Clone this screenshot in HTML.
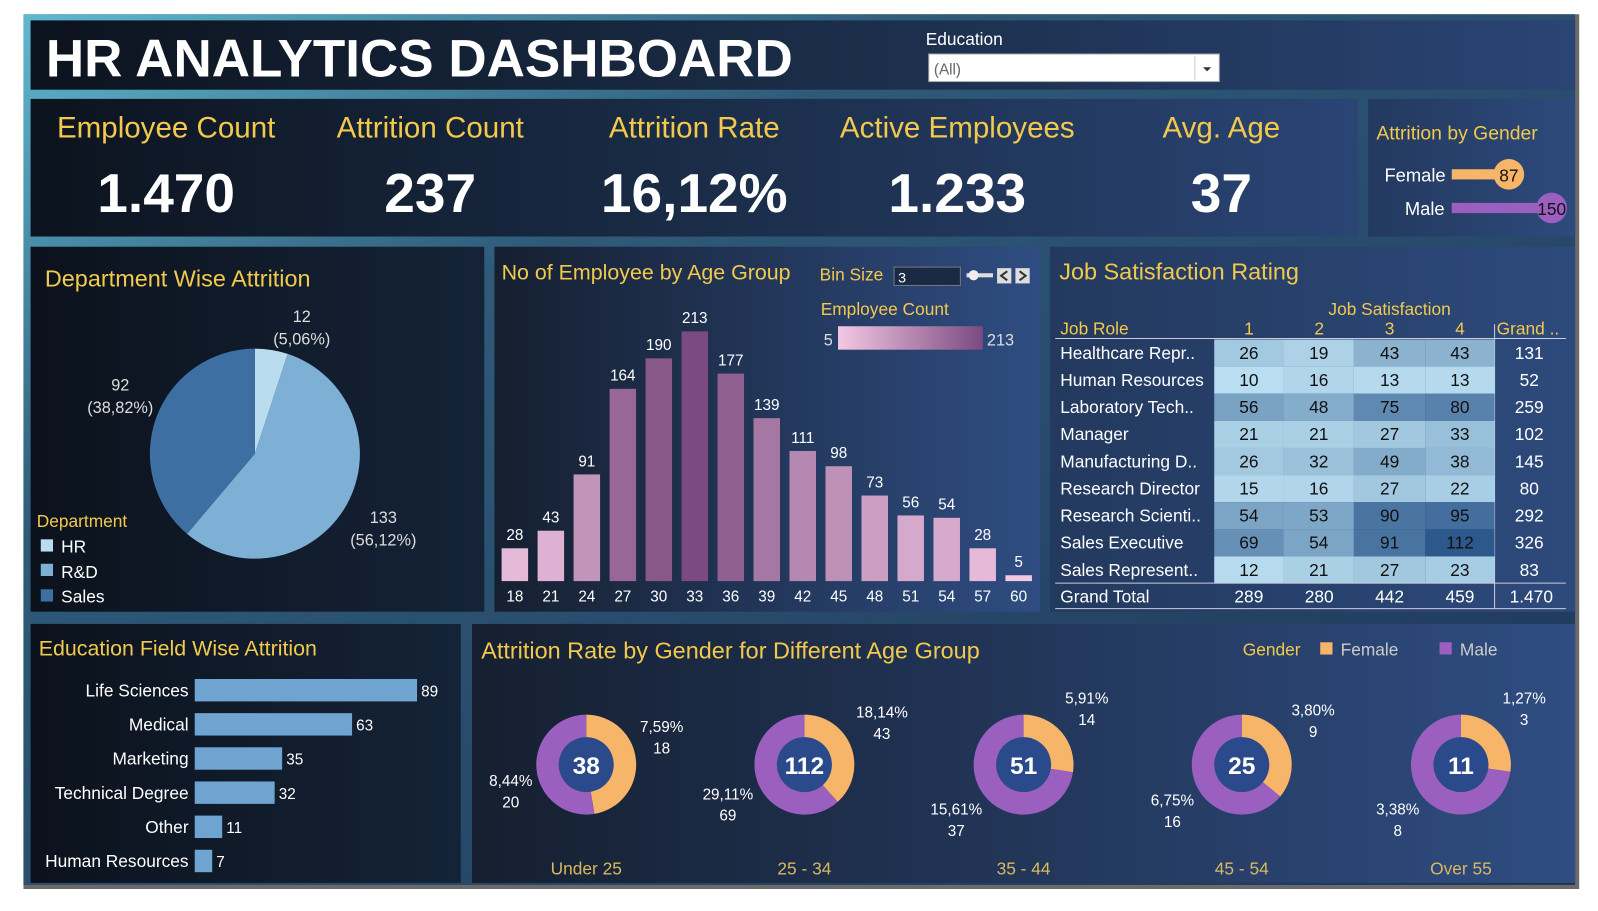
<!DOCTYPE html>
<html><head><meta charset="utf-8"><style>
html,body{margin:0;padding:0;background:#fff;width:1598px;height:911px;overflow:hidden}
svg text{font-family:"Liberation Sans",sans-serif}
</style></head><body>
<svg width="1598" height="911" xmlns="http://www.w3.org/2000/svg">
<defs>
<linearGradient id="bg" x1="0" y1="0" x2="1" y2="1">
<stop offset="0" stop-color="#5fb8cf"/><stop offset="0.3" stop-color="#2e5a78"/><stop offset="1" stop-color="#1e3358"/></linearGradient>
<linearGradient id="pn" x1="0" y1="0" x2="1" y2="0">
<stop offset="0" stop-color="#0c131e"/><stop offset="0.5" stop-color="#1a2c47"/><stop offset="1" stop-color="#2a4474"/></linearGradient>
<linearGradient id="pd" x1="0" y1="0" x2="1" y2="0">
<stop offset="0" stop-color="#0b121c"/><stop offset="1" stop-color="#152338"/></linearGradient>
<linearGradient id="pr" x1="0" y1="0" x2="1" y2="0">
<stop offset="0" stop-color="#23395e"/><stop offset="1" stop-color="#2d4a7c"/></linearGradient>
<linearGradient id="pm" x1="0" y1="0" x2="1" y2="0">
<stop offset="0" stop-color="#151f30"/><stop offset="1" stop-color="#2f4d82"/></linearGradient>
<linearGradient id="leg" x1="0" y1="0" x2="1" y2="0">
<stop offset="0" stop-color="#f2c8e3"/><stop offset="1" stop-color="#7b4a80"/></linearGradient>
</defs>
<g transform="scale(1.0195)">
<rect x="23" y="14" width="1526" height="858" fill="#6a6a6a"/>
<rect x="23" y="14" width="1522" height="854" fill="url(#bg)"/>
<rect x="30" y="20" width="1515" height="68" fill="url(#pn)"/>
<rect x="30" y="97" width="1302" height="135" fill="url(#pn)"/>
<rect x="1342" y="97" width="203" height="135" fill="url(#pr)"/>
<rect x="30" y="242" width="445" height="358" fill="url(#pd)"/>
<rect x="485" y="242" width="535" height="358" fill="url(#pm)"/>
<rect x="1030" y="242" width="515" height="358" fill="url(#pr)"/>
<rect x="30" y="612" width="422" height="254" fill="url(#pd)"/>
<rect x="463" y="612" width="1082" height="254" fill="url(#pm)"/>
<text x="45" y="75" font-size="52" font-weight="bold" fill="#fff">HR ANALYTICS DASHBOARD</text>
<text x="908" y="44" font-size="17" fill="#fff">Education</text>
<rect x="911" y="53" width="285" height="27" fill="#fff" stroke="#aaa"/>
<text x="916" y="73" font-size="15" fill="#666">(All)</text>
<line x1="1172" y1="55" x2="1172" y2="78" stroke="#ccc"/>
<path d="M1180 66 l4 4 l4 -4z" fill="#333"/>
<g font-size="29" fill="#f2c94c" text-anchor="middle">
<text x="163" y="135">Employee Count</text><text x="422" y="135">Attrition Count</text><text x="681" y="135">Attrition Rate</text><text x="939" y="135">Active Employees</text><text x="1198" y="135">Avg. Age</text></g>
<g font-size="54" font-weight="bold" fill="#fff" text-anchor="middle">
<text x="163" y="208">1.470</text><text x="422" y="208">237</text><text x="681" y="208">16,12%</text><text x="939" y="208">1.233</text><text x="1198" y="208">37</text></g>
<text x="1350" y="137" font-size="19" fill="#f2c94c">Attrition by Gender</text>
<text x="1358" y="178" font-size="18" fill="#fff">Female</text>
<text x="1378" y="211" font-size="18" fill="#fff">Male</text>
<rect x="1424" y="166" width="56" height="10" fill="#f7b56a"/><circle cx="1480" cy="171" r="15" fill="#f7b56a"/>
<text x="1480" y="178" font-size="17" text-anchor="middle" fill="#111">87</text>
<rect x="1424" y="199" width="98" height="10" fill="#9b5fc0"/><circle cx="1522" cy="204" r="15" fill="#9b5fc0"/>
<text x="1522" y="211" font-size="17" text-anchor="middle" fill="#111">150</text>
<text x="44" y="281" font-size="23" fill="#f2c94c">Department Wise Attrition</text>
<g id="pie"></g>
<g font-size="16" fill="#ddd" text-anchor="middle">
<text x="296" y="316">12</text><text x="296" y="338">(5,06%)</text>
<text x="118" y="383">92</text><text x="118" y="405">(38,82%)</text>
<text x="376" y="513">133</text><text x="376" y="535">(56,12%)</text></g>
<text x="36" y="517" font-size="17" fill="#f2c94c">Department</text>
<rect x="40" y="529" width="12" height="12" fill="#b9dcef"/><text x="60" y="542" font-size="17" fill="#fff">HR</text>
<rect x="40" y="553" width="12" height="12" fill="#7eb0d6"/><text x="60" y="567" font-size="17" fill="#fff">R&amp;D</text>
<rect x="40" y="578" width="12" height="12" fill="#3e6fa3"/><text x="60" y="591" font-size="17" fill="#fff">Sales</text>
<text x="492" y="274" font-size="21" fill="#f2c94c">No of Employee by Age Group</text>
<text x="804" y="275" font-size="17" fill="#f2c94c">Bin Size</text>
<rect x="877" y="262" width="65" height="18" fill="#1a2a44" stroke="#777"/>
<text x="881" y="277" font-size="14" fill="#fff">3</text>
<rect x="948" y="268" width="26" height="4" fill="#ddd"/><circle cx="955" cy="270" r="5" fill="#eee"/>
<rect x="978" y="263" width="14" height="15" fill="#ddd"/><rect x="996" y="263" width="14" height="15" fill="#ddd"/>
<path d="M988 266 l-6 4.5 l6 4.5" stroke="#333" stroke-width="2" fill="none"/><path d="M1000 266 l6 4.5 l-6 4.5" stroke="#333" stroke-width="2" fill="none"/>
<text x="805" y="309" font-size="17" fill="#f2c94c">Employee Count</text>
<text x="808" y="339" font-size="16" fill="#ddd">5</text>
<rect x="822" y="320" width="142" height="23" fill="url(#leg)"/>
<text x="968" y="339" font-size="16" fill="#ddd">213</text>
<g id="bars"></g>
<text x="1039" y="274" font-size="23" fill="#f2c94c">Job Satisfaction Rating</text>
<text x="1363" y="309" font-size="17" fill="#f2c94c" text-anchor="middle">Job Satisfaction</text>
<g font-size="17" fill="#f2c94c"><text x="1040" y="328">Job Role</text>
<text x="1225" y="328" text-anchor="middle">1</text><text x="1294" y="328" text-anchor="middle">2</text><text x="1363" y="328" text-anchor="middle">3</text><text x="1432" y="328" text-anchor="middle">4</text><text x="1468" y="328">Grand ..</text></g>
<line x1="1466" y1="318" x2="1466" y2="597" stroke="#ccd" stroke-width="1"/>
<line x1="1035" y1="332" x2="1536" y2="332" stroke="#ccd"/>
<g id="tbl"></g>
<text x="38" y="643" font-size="21" fill="#f2c94c">Education Field Wise Attrition</text>
<g id="edu"></g>
<text x="472" y="646" font-size="23" fill="#f2c94c">Attrition Rate by Gender for Different Age Group</text>
<text x="1219" y="643" font-size="17" fill="#f2c94c">Gender</text>
<rect x="1295" y="630" width="12" height="12" fill="#f7b56a"/><text x="1315" y="643" font-size="17" fill="#ccc">Female</text>
<rect x="1412" y="630" width="12" height="12" fill="#9b5fc0"/><text x="1432" y="643" font-size="17" fill="#ccc">Male</text>
<g id="don"></g>
</g>
</svg>
<script>
var NS="http://www.w3.org/2000/svg";
function el(g,t,a,txt){var e=document.createElementNS(NS,t);for(var k in a)e.setAttribute(k,a[k]);if(txt!=null)e.textContent=txt;document.getElementById(g).appendChild(e);return e;}
function arc(cx,cy,r,a0,a1){var p=function(a){return [cx+r*Math.sin(a*Math.PI/180),cy-r*Math.cos(a*Math.PI/180)]};var s=p(a0),e=p(a1);return "M"+cx+" "+cy+" L"+s[0]+" "+s[1]+" A"+r+" "+r+" 0 "+((a1-a0)>180?1:0)+" 1 "+e[0]+" "+e[1]+"Z";}
var a1=0.0506*360,a2=a1+0.5612*360;
el("pie","path",{d:arc(250,445,103,0,a1),fill:"#b9dcef"});
el("pie","path",{d:arc(250,445,103,a1,a2),fill:"#7eb0d6"});
el("pie","path",{d:arc(250,445,103,a2,360),fill:"#3e6fa3"});
function mix(c1,c2,t){var r=[];for(var i=0;i<3;i++)r.push(Math.round(c1[i]+(c2[i]-c1[i])*t));return "rgb("+r.join(",")+")";}
var ages=[18,21,24,27,30,33,36,39,42,45,48,51,54,57,60],vals=[28,43,91,164,190,213,177,139,111,98,73,56,54,28,5];
for(var i=0;i<15;i++){var x=505+i*35.3,h=vals[i]*1.15,t=(vals[i]-5)/208;
el("bars","rect",{x:x-13,y:570-h,width:26,height:h,fill:mix([242,200,227],[123,74,128],t)});
el("bars","text",{x:x,y:570-h-8,"font-size":15,fill:"#fff","text-anchor":"middle"},vals[i]);
el("bars","text",{x:x,y:590,"font-size":15,fill:"#fff","text-anchor":"middle"},ages[i]);}
var roles=["Healthcare Repr..","Human Resources","Laboratory Tech..","Manager","Manufacturing D..","Research Director","Research Scienti..","Sales Executive","Sales Represent.."];
var d=[[26,19,43,43,131],[10,16,13,13,52],[56,48,75,80,259],[21,21,27,33,102],[26,32,49,38,145],[15,16,27,22,80],[54,53,90,95,292],[69,54,91,112,326],[12,21,27,23,83]];
var cx=[1191,1259,1328,1398,1466];
for(var r=0;r<9;r++){var y=333+r*26.6;
el("tbl","text",{x:1040,y:y+19,"font-size":17,fill:"#fff"},roles[r]);
for(var c=0;c<4;c++){var t=(d[r][c]-10)/102;
el("tbl","rect",{x:cx[c],y:y,width:cx[c+1]-cx[c],height:26.6,fill:mix([185,222,241],[44,88,140],t)});
el("tbl","text",{x:(cx[c]+cx[c+1])/2,y:y+19,"font-size":17,fill:"#111","text-anchor":"middle"},d[r][c]);}
el("tbl","text",{x:1500,y:y+19,"font-size":17,fill:"#fff","text-anchor":"middle"},d[r][4]);}
el("tbl","line",{x1:1035,y1:572,x2:1536,y2:572,stroke:"#ccd"});
el("tbl","line",{x1:1035,y1:597,x2:1536,y2:597,stroke:"#ccd"});
el("tbl","text",{x:1040,y:591,"font-size":17,fill:"#fff"},"Grand Total");
var gt=[289,280,442,459,"1.470"];
for(var c=0;c<5;c++)el("tbl","text",{x:[1225,1294,1363,1432,1502][c],y:591,"font-size":17,fill:"#fff","text-anchor":"middle"},gt[c]);
var ef=["Life Sciences","Medical","Marketing","Technical Degree","Other","Human Resources"],ev=[89,63,35,32,11,7];
for(var i=0;i<6;i++){var y=677+i*33.5,w=ev[i]*2.45;
el("edu","text",{x:185,y:y+6,"font-size":17,fill:"#fff","text-anchor":"end"},ef[i]);
el("edu","rect",{x:191,y:y-11,width:w,height:22,fill:"#6fa3d0"});
el("edu","text",{x:191+w+4,y:y+6,"font-size":15,fill:"#fff"},ev[i]);}
var dc=[575,789,1004,1218,1433],tot=[38,112,51,25,11],fem=[18,43,14,9,3],
lab=["Under 25","25 - 34","35 - 44","45 - 54","Over 55"],
fp=["7,59%","18,14%","5,91%","3,80%","1,27%"],mp=["8,44%","29,11%","15,61%","6,75%","3,38%"],ml=[20,69,37,16,8],
fpos=[[649,718],[865,704],[1066,690],[1288,702],[1495,690]],mpos=[[501,771],[714,784],[938,799],[1150,790],[1371,799]];
for(var i=0;i<5;i++){var x=dc[i],f=fem[i]/tot[i]*360;
el("don","path",{d:arc(x,750,49,0,f),fill:"#f7b56a"});
el("don","path",{d:arc(x,750,49,f,359.99),fill:"#9b5fc0"});
el("don","circle",{cx:x,cy:750,r:27,fill:"#2b4a8c"});
el("don","text",{x:x,y:759,"font-size":24,"font-weight":"bold",fill:"#fff","text-anchor":"middle"},tot[i]);
el("don","text",{x:x,y:858,"font-size":17,fill:"#d8b860","text-anchor":"middle"},lab[i]);
el("don","text",{x:fpos[i][0],y:fpos[i][1],"font-size":15,fill:"#fff","text-anchor":"middle"},fp[i]);
el("don","text",{x:fpos[i][0],y:fpos[i][1]+21,"font-size":15,fill:"#fff","text-anchor":"middle"},fem[i]);
el("don","text",{x:mpos[i][0],y:mpos[i][1],"font-size":15,fill:"#fff","text-anchor":"middle"},mp[i]);
el("don","text",{x:mpos[i][0],y:mpos[i][1]+21,"font-size":15,fill:"#fff","text-anchor":"middle"},ml[i]);}
</script>
</body></html>
